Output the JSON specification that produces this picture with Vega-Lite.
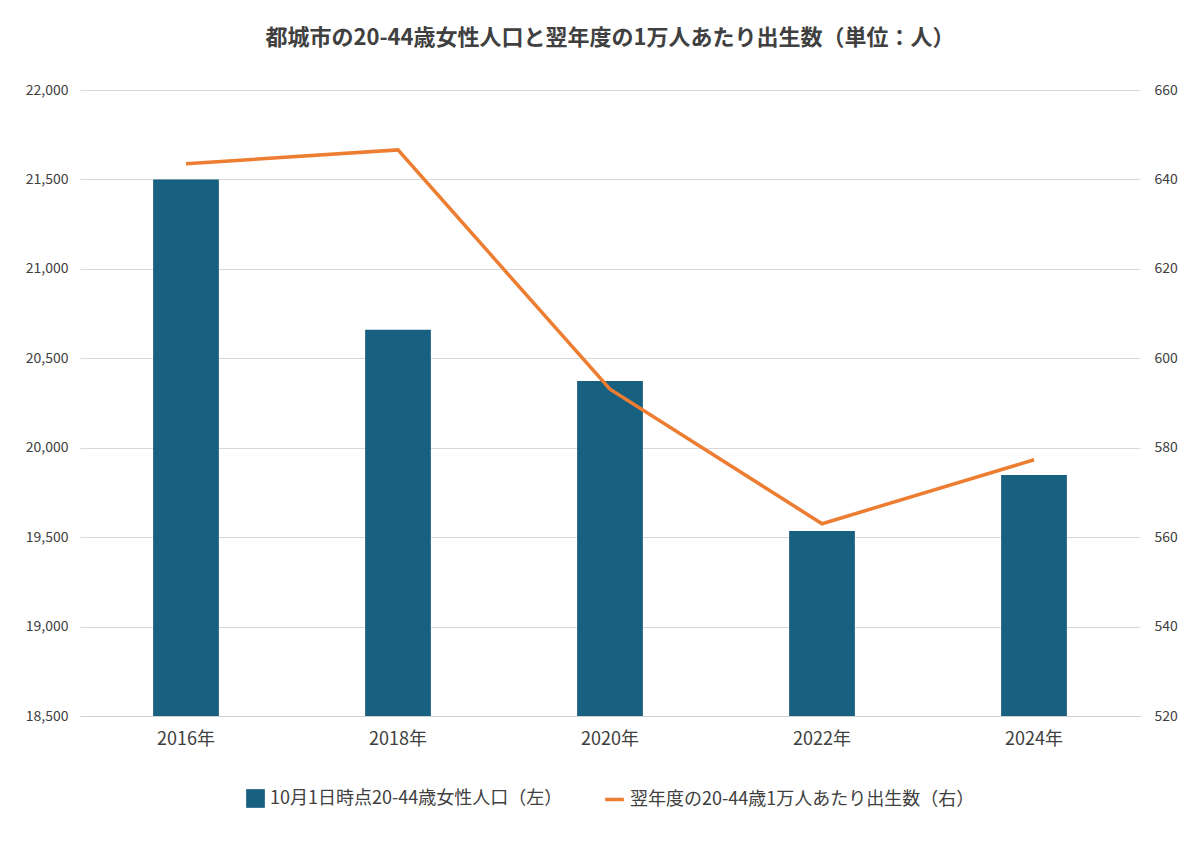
{
"$schema":"https://vega.github.io/schema/vega-lite/v6.json",
"width":1060,"height":626,
"autosize":{"type":"none"},
"padding":{"top":90,"left":80,"right":60,"bottom":126},
"background":"white",
"config":{"font":"Noto Sans CJK JP","view":{"stroke":null},
 "legend":{"orient":"bottom","direction":"horizontal","labelFontSize":18,"labelColor":"#404040","labelLimit":600,"offset":40,"title":null,"symbolSize":350,"layout":{"bottom":{"anchor":"middle","margin":40}}}},
"title":{"text":"都城市の20-44歳女性人口と翌年度の1万人あたり出生数（単位：人）","fontSize":22,"fontWeight":"bold","color":"#404040","anchor":"middle","offset":33},
"data":{"values":[
 {"year":"2016年","pop":21500,"rate":643.5},
 {"year":"2018年","pop":20660,"rate":646.6},
 {"year":"2020年","pop":20373,"rate":593.1},
 {"year":"2022年","pop":19534,"rate":563},
 {"year":"2024年","pop":19848,"rate":577.3}
]},
"layer":[
 {"mark":{"type":"bar","color":"#17607f","clip":true},
  "encoding":{"x":{"field":"year","type":"nominal","sort":null,"scale":{"paddingInner":0.69,"paddingOuter":0.345},
 "axis":{"title":null,"labelAngle":0,"labelFontSize":18,"labelColor":"#404040","domainColor":"#d0d0d0","ticks":false,"labelPadding":14}},
  "y":{"field":"pop","type":"quantitative","scale":{"domain":[18500,22000],"zero":false},
   "axis":{"title":null,"format":",d","values":[18500,19000,19500,20000,20500,21000,21500,22000],"labelOverlap":false,"labelFontSize":14,"labelColor":"#404040","domain":false,"ticks":false,"gridColor":"#d9d9d9","labelPadding":12}},
   "fill":{"datum":"10月1日時点20-44歳女性人口（左）","scale":{"range":["#17607f"]},"legend":{"symbolType":"square"}}}},
 {"mark":{"type":"line","color":"#ed7d31","strokeWidth":3.5},
  "encoding":{"x":{"field":"year","type":"nominal","sort":null,"bandPosition":0.5},
   "y":{"field":"rate","type":"quantitative","scale":{"domain":[520,660],"zero":false},
   "axis":{"title":null,"orient":"right","values":[520,540,560,580,600,620,640,660],"labelOverlap":false,"labelFontSize":14,"labelColor":"#404040","domain":false,"ticks":false,"grid":false,"labelPadding":14}},
   "stroke":{"datum":"翌年度の20-44歳1万人あたり出生数（右）","scale":{"range":["#ed7d31"]},"legend":{"symbolType":"stroke","symbolStrokeWidth":3.5}}}}
],
"resolve":{"scale":{"y":"independent"}}
}
